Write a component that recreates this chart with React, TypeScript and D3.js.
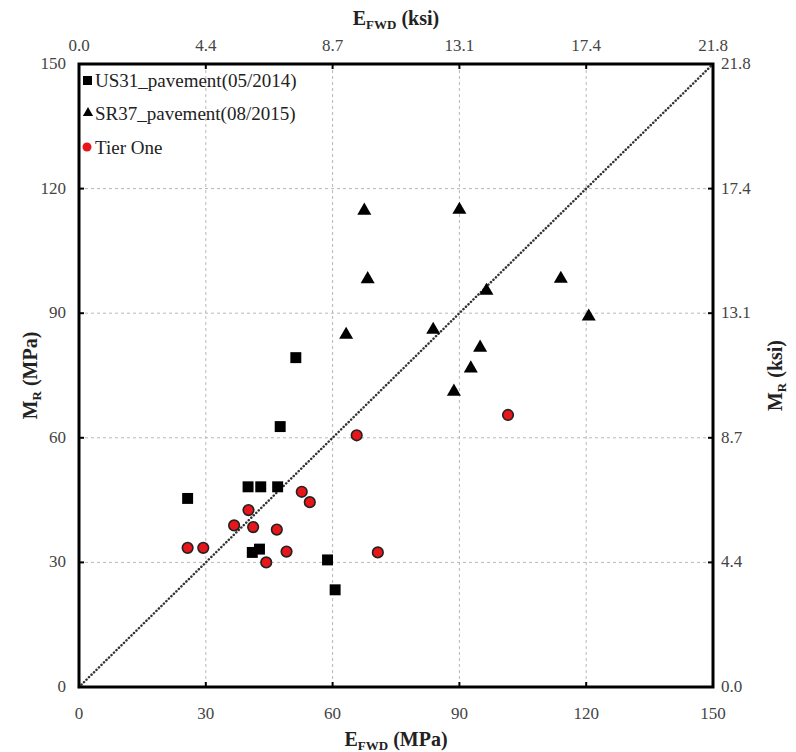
import React from "react";
import * as d3 from "d3";

const us31X = [25.7, 40.0, 43.0, 47.0, 47.6, 51.3, 41.0, 42.7, 58.8, 60.6];
const us31Y = [45.4, 48.2, 48.2, 48.2, 62.7, 79.3, 32.4, 33.2, 30.6, 23.4];

const sr37X = [67.5, 90.0, 68.3, 114.0, 96.4, 120.6, 63.2, 83.8, 94.9, 92.7, 88.7];
const sr37Y = [114.7, 114.9, 98.2, 98.3, 95.4, 89.2, 84.8, 86.0, 81.7, 76.7, 71.1];

const tierX = [25.7, 29.4, 36.7, 40.1, 41.2, 46.8, 44.3, 49.1, 52.7, 54.6, 65.7, 70.7, 101.5];
const tierY = [33.5, 33.5, 38.9, 42.6, 38.5, 37.9, 30.0, 32.6, 47.0, 44.5, 60.6, 32.4, 65.5];

const mpaTicks = [0, 30, 60, 90, 120, 150];
const ksiLabels = ["0.0", "4.4", "8.7", "13.1", "17.4", "21.8"];
const legendLabels = ["US31_pavement(05/2014)", "SR37_pavement(08/2015)", "Tier One"];

const W = 796;
const H = 752;
const L = 79, R = 713, T = 64, B = 687;
const FONT = '"Liberation Serif", "DejaVu Serif", serif';

export default function App() {
  const x = d3.scaleLinear().domain([0, 150]).range([L, R]);
  const y = d3.scaleLinear().domain([0, 150]).range([B, T]);
  const sq = d3.symbol().type(d3.symbolSquare).size(120)();
  const tri = d3.symbol().type(d3.symbolTriangle).size(85)();
  const diag = d3.line<number>().x((v) => x(v)).y((v) => y(v))([0, 150]);

  return (
    <svg width={W} height={H} style={{ position: "absolute", left: 0, top: 0, background: "#fff", fontFamily: FONT }}>
      <rect x={0} y={0} width={W} height={H} fill="#fff" />
      {mpaTicks.slice(1, -1).map((t) => (
        <g key={"g" + t}>
          <line x1={x(t)} x2={x(t)} y1={T} y2={B} stroke="#b8b8b8" strokeWidth={1} strokeDasharray="3,3" />
          <line x1={L} x2={R} y1={y(t)} y2={y(t)} stroke="#b8b8b8" strokeWidth={1} strokeDasharray="3,3" />
        </g>
      ))}
      <path d={diag || ""} stroke="#333" strokeWidth={2.5} strokeDasharray="0.1,3.4" strokeLinecap="round" fill="none" />
      {mpaTicks.map((t) => (
        <g key={"t" + t} stroke="#000" strokeWidth={2}>
          <line x1={x(t)} x2={x(t)} y1={B} y2={B - 5} />
          <line x1={x(t)} x2={x(t)} y1={T} y2={T + 5} />
          <line x1={L} x2={L + 5} y1={y(t)} y2={y(t)} />
          <line x1={R} x2={R - 5} y1={y(t)} y2={y(t)} />
        </g>
      ))}
      <rect x={L} y={T} width={R - L} height={B - T} fill="none" stroke="#000" strokeWidth={3} />
      {us31X.map((v, i) => (
        <path key={"u" + i} d={sq || ""} transform={`translate(${x(v)},${y(us31Y[i])})`} fill="#000" />
      ))}
      {sr37X.map((v, i) => (
        <path key={"s" + i} d={tri || ""} transform={`translate(${x(v)},${y(sr37Y[i])})`} fill="#000" />
      ))}
      {tierX.map((v, i) => (
        <circle key={"c" + i} cx={x(v)} cy={y(tierY[i])} r={5.3} fill="#e8161b" stroke="#222" strokeWidth={1.6} />
      ))}
      <g style={{ fontFamily: FONT, fontSize: 17 }} fill="#444">
        {mpaTicks.map((t) => (
          <text key={"bx" + t} x={x(t)} y={B + 32} textAnchor="middle">{t}</text>
        ))}
        {mpaTicks.map((t, i) => (
          <text key={"tx" + t} x={x(t)} y={T - 13} textAnchor="middle">{ksiLabels[i]}</text>
        ))}
        {mpaTicks.map((t) => (
          <text key={"ly" + t} x={L - 13} y={y(t) + 5} textAnchor="end">{t}</text>
        ))}
        {mpaTicks.map((t, i) => (
          <text key={"ry" + t} x={R + 8} y={y(t) + 5} textAnchor="start">{ksiLabels[i]}</text>
        ))}
      </g>
      <g style={{ fontFamily: FONT, fontSize: 20, fontWeight: "bold" }} fill="#222">
        <text x={(L + R) / 2} y={746} textAnchor="middle">
          E<tspan fontSize={13} dy={4}>FWD</tspan><tspan dy={-4}> (MPa)</tspan>
        </text>
        <text x={(L + R) / 2} y={25} textAnchor="middle">
          E<tspan fontSize={13} dy={4}>FWD</tspan><tspan dy={-4}> (ksi)</tspan>
        </text>
        <text transform={`translate(37,${(T + B) / 2}) rotate(-90)`} textAnchor="middle">
          M<tspan fontSize={13} dy={4}>R</tspan><tspan dy={-4}> (MPa)</tspan>
        </text>
        <text transform={`translate(782,${(T + B) / 2}) rotate(-90)`} textAnchor="middle">
          M<tspan fontSize={13} dy={4}>R</tspan><tspan dy={-4}> (ksi)</tspan>
        </text>
      </g>
      <g style={{ fontFamily: FONT, fontSize: 19 }} fill="#222">
        <rect x={83} y={76} width={9} height={9} fill="#000" />
        <text x={95} y={87}>{legendLabels[0]}</text>
        <path d={d3.symbol().type(d3.symbolTriangle).size(45)() || ""} transform="translate(88,113)" fill="#000" />
        <text x={95} y={120}>{legendLabels[1]}</text>
        <circle cx={87} cy={147} r={4.5} fill="#e8161b" />
        <text x={95} y={154}>{legendLabels[2]}</text>
      </g>
    </svg>
  );
}
